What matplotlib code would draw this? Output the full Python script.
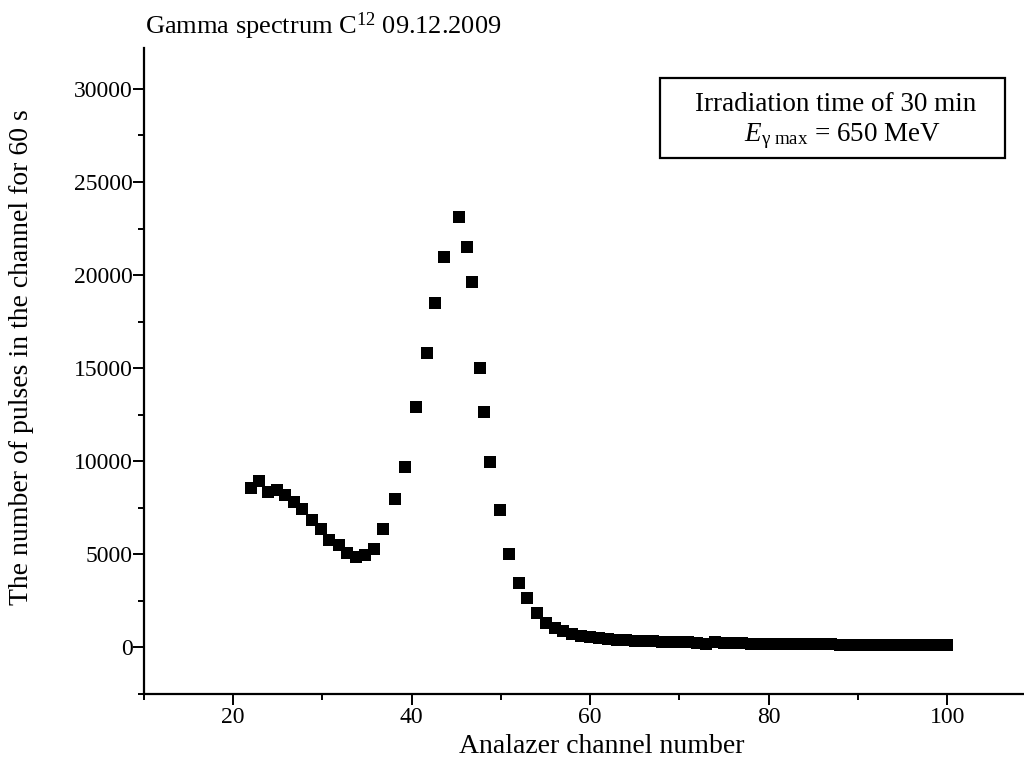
import matplotlib
matplotlib.use('Agg')
import matplotlib.pyplot as plt
import matplotlib.ticker as mticker
from matplotlib.patches import Rectangle

plt.rcParams['font.family'] = 'Liberation Serif'
plt.rcParams['mathtext.fontset'] = 'custom'
plt.rcParams['mathtext.rm'] = 'Liberation Serif'
plt.rcParams['mathtext.it'] = 'Liberation Serif:italic'

# channel numbers and counts
channel = [22.0, 22.9, 23.9, 24.9, 25.8, 26.8, 27.7, 28.8, 29.8, 30.7,
           31.8, 32.8, 33.8, 34.8, 35.8, 36.8, 38.1, 39.2, 40.5, 41.7,
           42.6, 43.6, 45.3, 46.2, 46.7, 47.7, 48.1, 48.8, 49.9, 50.9,
           52.0, 52.9, 54.0, 55.0, 56.0, 57.0, 58.0, 59.0, 60.0, 61, 62,
           63, 64, 65, 66, 67, 68, 69, 70, 71, 72, 73, 74, 75, 76, 77, 78,
           79, 80, 81, 82, 83, 84, 85, 86, 87, 88, 89, 90, 91, 92, 93, 94,
           95, 96, 97, 98, 99, 100]
counts = [8570, 8920, 8350, 8480, 8210, 7810, 7420, 6860, 6380, 5790,
          5480, 5070, 4860, 4950, 5310, 6340, 7960, 9690, 12890, 15840,
          18480, 20950, 23130, 21490, 19610, 15020, 12650, 9960, 7370, 5000,
          3460, 2670, 1850, 1310, 1050, 870, 700, 600, 540, 490, 450,
          420, 390, 360, 340, 320, 300, 290, 280, 270, 250, 160, 290, 240, 230, 220, 210,
          200, 200, 190, 180, 180, 170, 170, 160, 160, 150, 140, 120, 120, 115, 115, 110,
          110, 110, 110, 110, 110, 110]

x_ticks = [20, 40, 60, 80, 100]
y_ticks = [0, 5000, 10000, 15000, 20000, 25000, 30000]

fig = plt.figure(figsize=(10.24, 7.7), dpi=100)
ax = fig.add_axes([0.1406, 0.0987, 0.8594, 0.839])

ax.plot(channel, counts, 's', color='black', markersize=9, markeredgewidth=0)

ax.set_xlim(10, 108.6)
ax.set_ylim(-2500, 32200)
ax.set_xticks(x_ticks)
ax.set_yticks(y_ticks)
ax.xaxis.set_minor_locator(mticker.MultipleLocator(10))
ax.yaxis.set_minor_locator(mticker.MultipleLocator(2500))

for s in ['top', 'right']:
    ax.spines[s].set_visible(False)
for s in ['left', 'bottom']:
    ax.spines[s].set_linewidth(1.6)

ax.tick_params(which='major', direction='out', length=8, width=1.4, labelsize=17, pad=0)
ax.tick_params(axis='x', which='major', pad=1)
ax.tick_params(which='minor', direction='out', length=4, width=1.4)

ax.set_xlabel('Analazer channel number', fontsize=20)
ax.xaxis.set_label_coords(0.52, -0.062)
ax.set_ylabel('The number of pulses in the channel for 60 s', fontsize=20)
ax.yaxis.set_label_coords(-0.125, 0.522)

fig.text(0.1416, 0.966, r'Gamma spectrum C$^{12}$ 09.12.2009', fontsize=19, va='center', ha='left')

# annotation box
ax.add_patch(Rectangle((0.586, 0.830), 0.392, 0.124, transform=ax.transAxes,
                       facecolor='white', edgecolor='black', linewidth=1.6, zorder=3))
ax.text(0.786, 0.886, 'Irradiation time of 30 min\n' + r'  $E_{\mathrm{\gamma\ max}}$ = 650 MeV',
        transform=ax.transAxes, fontsize=19.5, ha='center', va='center', linespacing=1.2, zorder=4)

fig.savefig('out.png', dpi=100)
